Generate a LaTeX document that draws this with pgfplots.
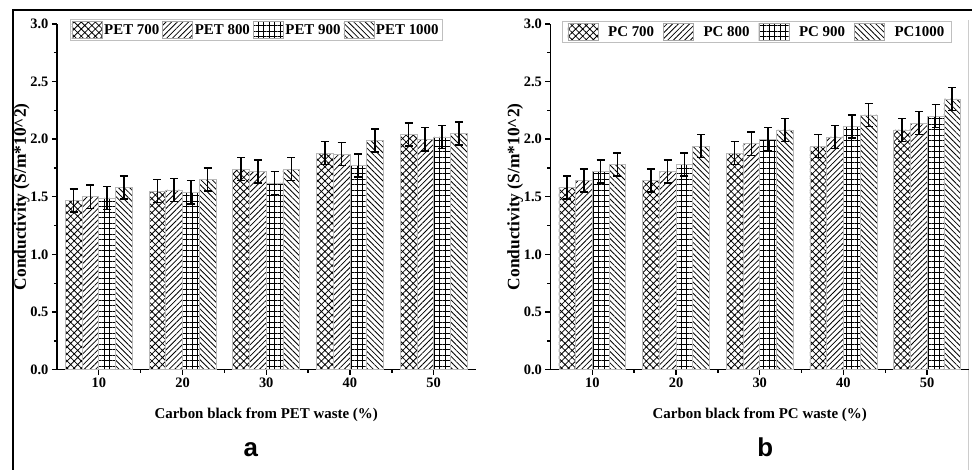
\documentclass[border=0pt]{standalone}
\usepackage{fontspec}
\setmainfont{Liberation Serif}
\newfontfamily\arialfont{Liberation Sans}
\usepackage{pgfplots}
\usepackage{pgfplotstable}
\pgfplotsset{compat=1.18}
\usetikzlibrary{patterns.meta}

% carbon black from PET waste
\pgfplotstableread{
x  a    b    c    d    e
10 1.47 1.50 1.49 1.58 0.1
20 1.55 1.56 1.54 1.65 0.1
30 1.74 1.72 1.62 1.74 0.1
40 1.88 1.87 1.77 1.99 0.1
50 2.04 2.00 2.02 2.05 0.1
}\petdata

% carbon black from PC waste
\pgfplotstableread{
x  a    b    c    d    e
10 1.58 1.64 1.72 1.78 0.1
20 1.64 1.72 1.78 1.94 0.1
30 1.88 1.96 2.00 2.08 0.1
40 1.94 2.02 2.11 2.21 0.1
50 2.08 2.14 2.20 2.35 0.1
}\pcdata

\pgfplotsset{
  condaxis/.style={
    scale only axis, width=419bp, height=346bp,
    xmin=5, xmax=55, ymin=0, ymax=3,
    axis lines=left, axis line style={-, line width=1.6bp},
    xtick={10,20,30,40,50}, ytick={0,0.5,1,1.5,2,2.5,3},
    minor x tick num=1, minor y tick num=1,
    tick align=outside, major tick length=5bp, minor tick length=3bp,
    every tick/.style={line width=1.4bp, black},
    /pgf/number format/assume math mode=true,
    tick label style={font=\bfseries\fontsize{14.5}{14.5}\selectfont},
    yticklabel style={/pgf/number format/.cd, fixed, fixed zerofill, precision=1},
    ylabel={Conductivity (S/m*10\textasciicircum2)},
    ylabel style={at={(axis description cs:-0.084,0.5)}, anchor=center,
      font=\bfseries\fontsize{17.5}{17.5}\selectfont},
    xlabel style={at={(axis description cs:0.5,-0.13)}, anchor=center,
      font=\bfseries\fontsize{15}{15}\selectfont},
    ybar, bar width=2,
    legend columns=4,
    legend image code/.code={\draw[#1, draw=gray!70, line width=0.5bp] (0bp,-8bp) rectangle (30bp,9bp);},
  },
  bars/.style={
    draw=gray!55, line width=0.6bp, pattern color=black,
    error bars/y dir=both, error bars/y explicit,
    error bars/error bar style={line width=1.6bp, black},
    error bars/error mark options={rotate=90, mark size=4bp, line width=1.6bp, black},
  },
  p700/.style={bars, bar shift=-3, pattern={Hatch[angle=45,distance=5bp,line width=0.8bp]}},
  p800/.style={bars, bar shift=-1, pattern={Lines[angle=45,distance=4bp,line width=0.8bp]}},
  p900/.style={bars, bar shift=1, pattern={Hatch[angle=0,distance=5.5bp,line width=0.8bp]}},
  p1000/.style={bars, bar shift=3, pattern={Lines[angle=-45,distance=4bp,line width=0.8bp]}},
}

\begin{document}
\begin{tikzpicture}
\path (0bp,0bp) rectangle (973bp,470bp);
\draw[line width=2bp] (13bp,0bp) -- (13bp,460bp) -- (973bp,460bp);
\draw[gray!40, line width=0.8bp] (969bp,0bp) -- (969bp,450bp);

\begin{axis}[condaxis, at={(57bp,100bp)}, anchor=south west,
  xlabel={Carbon black from PET waste (\%)},
  legend style={at={(0.031,1.0145)}, anchor=north west, draw=gray!50, line width=0.6bp,
    font=\bfseries\fontsize{15}{15}\selectfont, inner xsep=1.5bp, inner ysep=2bp,
    /tikz/every even column/.append style={column sep=1bp}},
]
\addplot[p700] table[x=x, y=a, y error=e] {\petdata};
\addlegendentry{PET 700}
\addplot[p800] table[x=x, y=b, y error=e] {\petdata};
\addlegendentry{PET 800}
\addplot[p900] table[x=x, y=c, y error=e] {\petdata};
\addlegendentry{PET 900}
\addplot[p1000] table[x=x, y=d, y error=e] {\petdata};
\addlegendentry{PET 1000}
\end{axis}

\begin{axis}[condaxis, at={(551bp,100bp)}, anchor=south west,
  xlabel={Carbon black from PC waste (\%)},
  legend style={at={(0.0286,1.0087)}, anchor=north west, draw=gray!50, line width=0.6bp,
    font=\bfseries\fontsize{15}{15}\selectfont, inner xsep=5bp, inner ysep=2bp,
    /tikz/every odd column/.append style={column sep=8bp},
    /tikz/every even column/.append style={column sep=7bp}},
]
\addplot[p700] table[x=x, y=a, y error=e] {\pcdata};
\addlegendentry{PC 700}
\addplot[p800] table[x=x, y=b, y error=e] {\pcdata};
\addlegendentry{PC 800}
\addplot[p900] table[x=x, y=c, y error=e] {\pcdata};
\addlegendentry{PC 900}
\addplot[p1000] table[x=x, y=d, y error=e] {\pcdata};
\addlegendentry{PC1000}
\end{axis}

\node[font=\arialfont\bfseries\fontsize{26}{26}\selectfont, anchor=base] at (251bp,13bp) {a};
\node[font=\arialfont\bfseries\fontsize{26}{26}\selectfont, anchor=base] at (766bp,13bp) {b};
\end{tikzpicture}
\end{document}
